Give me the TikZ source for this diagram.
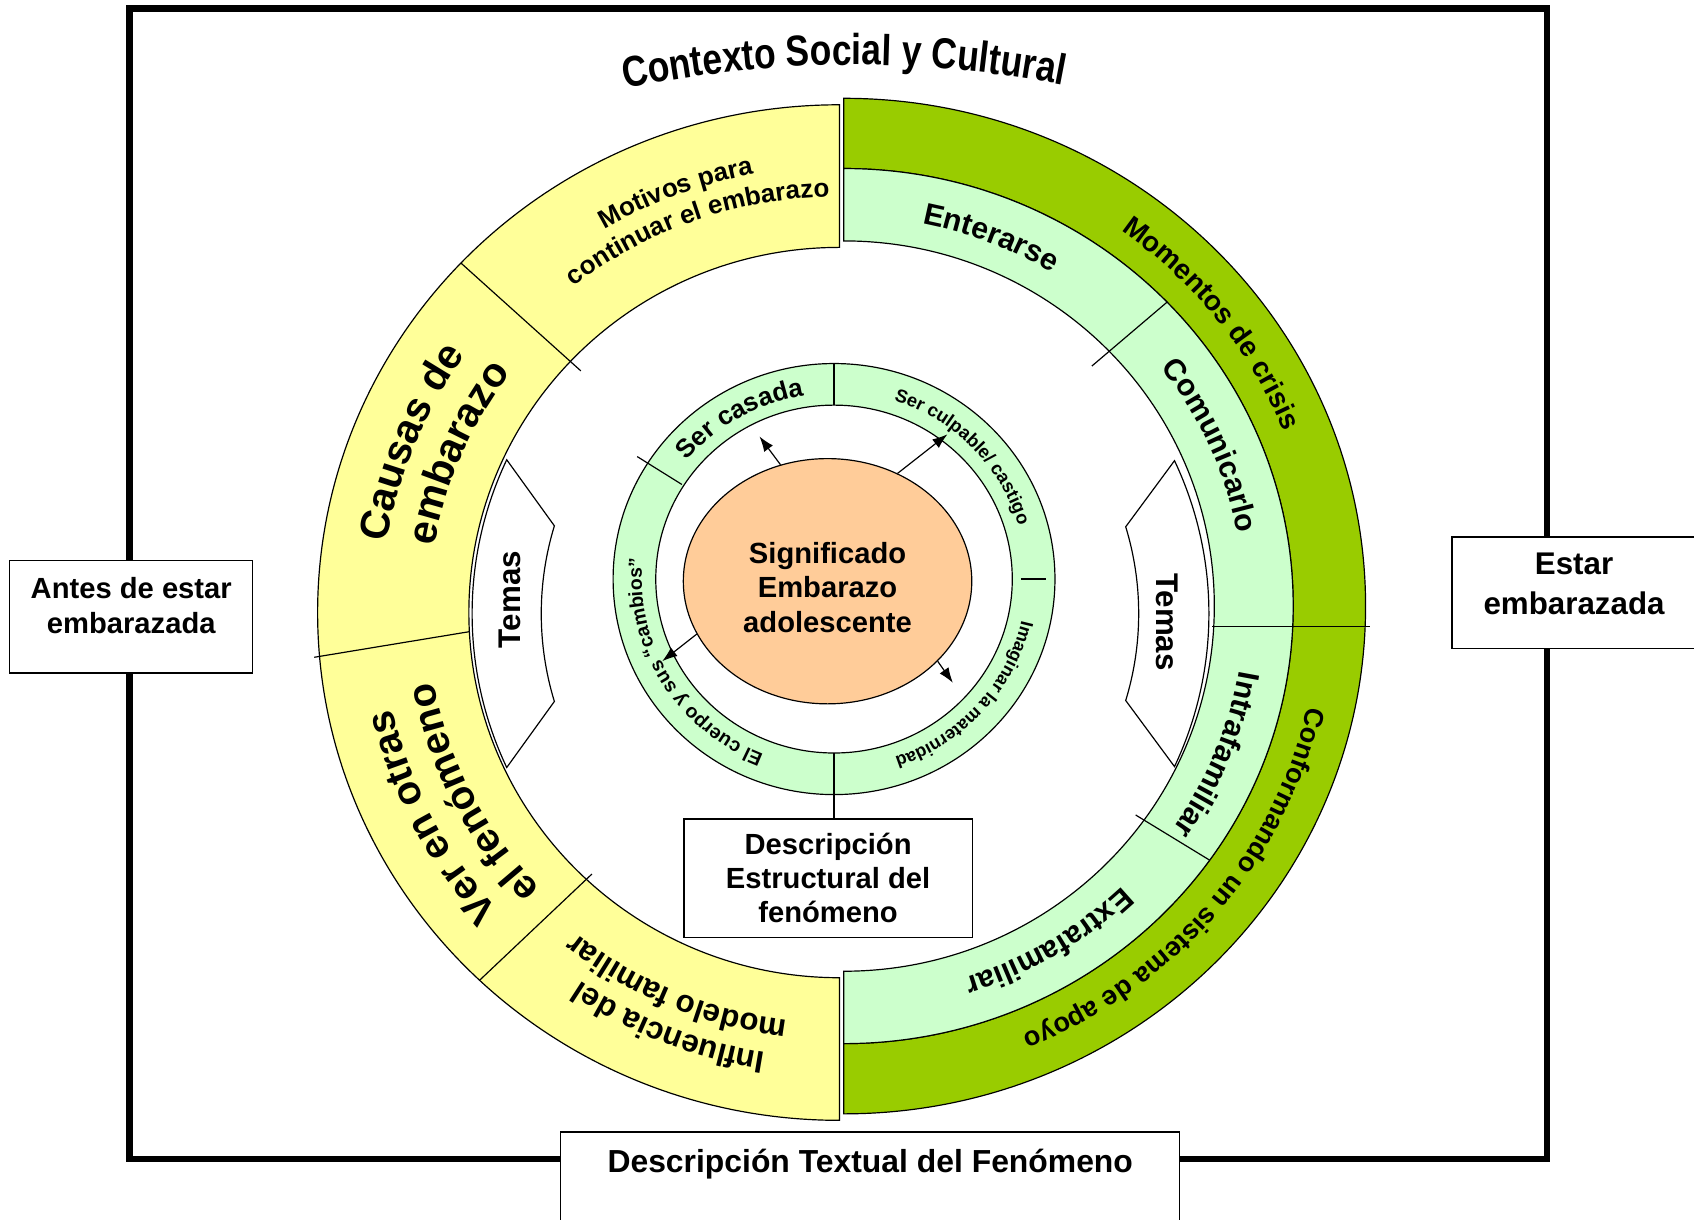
\documentclass[tikz,border=0pt]{standalone}
\usepackage{fontspec}
\setmainfont{Liberation Sans}
\newfontfamily\archfont{Liberation Sans}[FakeStretch=0.82]
\usetikzlibrary{shapes.geometric,decorations.text,arrows.meta,calc}
\definecolor{pale}{HTML}{FFFF99}
\definecolor{leaf}{HTML}{99CC00}
\definecolor{mint}{HTML}{CCFFCC}
\definecolor{peach}{HTML}{FFCC99}
\newcommand\fs[2]{\fontsize{#1}{#2}\selectfont\bfseries}
\begin{document}
\begin{tikzpicture}[x=1pt, y=1pt, line width=1.1pt,
    ringtext/.style={decorate, decoration={text along path, text align=center, text={#1}}},
    box/.style={draw, fill=white, line width=1.3pt, align=center, inner sep=0pt},
    arrowtip/.style={-{Latex[length=14pt,width=10pt]}}]
  \useasboundingbox (-781,-568) rectangle (787,561);
  \draw[line width=6pt] (-661,553) rectangle (651,-512);

  % outer ring
  \begin{scope}[shift={(-4,-6)}]
    \filldraw[fill=pale] (0,470) arc[start angle=90, end angle=270, x radius=483, y radius=470]
      -- (0,-338) arc[start angle=270, end angle=90, x radius=343, y radius=338] -- cycle;
    \draw (136.5:483 and 470) -- (136.5:330 and 325);
    \draw (185:488 and 475) -- (183:343 and 338);
    \draw (226.4:483 and 470) -- (227:336 and 331);
  \end{scope}
  \filldraw[fill=leaf] (0,470) arc[start angle=90, end angle=-90, x radius=483, y radius=470]
    -- (0,-405) arc[start angle=-90, end angle=90, x radius=416, y radius=405] -- cycle;
  \filldraw[fill=mint] (0,405) arc[start angle=90, end angle=-90, x radius=416, y radius=405]
    -- (0,-338) arc[start angle=-90, end angle=90, x radius=343, y radius=338] -- cycle;
  \draw (44.5:322 and 317) -- (44:416 and 405);
  \draw (-36:334 and 329) -- (-35.5:416 and 405);
  \draw (341,-19) -- (487,-19);

  % temas
  \begin{scope}[shift={(-2,-7)}]
    \filldraw[fill=white] (25:340 and 335) -- (17:275) arc[start angle=17, end angle=-17, radius=275]
      -- (-25:340 and 335) arc[start angle=-25, end angle=25, x radius=340, y radius=335] -- cycle;
    \filldraw[fill=white] (155:342 and 337) -- (163:278) arc[start angle=163, end angle=197, radius=278]
      -- (205:342 and 337) arc[start angle=205, end angle=155, x radius=342, y radius=337] -- cycle;
  \end{scope}
  \node[rotate=90, font=\fs{29}{29}] (temasL) at (-309,6) {Temas};
  \node[rotate=-90, font=\fs{29}{29}] (temasR) at (299,-15) {Temas};

  % inner ring
  \begin{scope}[shift={(-9,25)}]
    \filldraw[fill=mint, even odd rule] (0,0) ellipse[x radius=204.5, y radius=199.5]
      (0,0) ellipse[x radius=165, y radius=161];
    \draw (0,161) -- (0,199.5);
    \draw (147.5:167 and 163) -- (147.5:216 and 211);
    \draw (173,0) -- (196,0);
    \coordinate (ringbot) at (0,-161);
  \end{scope}

  \node[draw, fill=peach, ellipse, inner sep=0pt, minimum width=267, minimum height=227,
    align=center, font=\fs{27}{32}] (signif) at (-15,23)
    {\rule{0pt}{31pt}Significado\\Embarazo\\adolescente};
  \coordinate (tipA) at (-78,157);
  \coordinate (tipB) at (96,159);
  \coordinate (tipC) at (-168,-51);
  \coordinate (tipD) at (101,-71);
  \draw[arrowtip] (signif.112) -- (tipA);
  \draw[arrowtip] (signif.57) -- (tipB);
  \draw[arrowtip] (signif.202) -- (tipC);
  \draw[arrowtip] (signif.-36.5) -- (tipD);

  % boxes
  \node[box, minimum width=267, minimum height=110, font=\fs{27}{31.5}] (estructural) at (-14.5,-252)
    {Descripción\\Estructural del\\fenómeno};
  \draw (ringbot) -- (ringbot |- estructural.north);
  \node[box, minimum width=225, minimum height=104, font=\fs{27}{33}] (antes) at (-659.5,-10)
    {Antes de estar\\embarazada\rule[-21pt]{0pt}{21pt}};
  \node[box, minimum width=226, minimum height=103, font=\fs{29}{37}] (estar) at (676,12.5)
    {Estar\\embarazada\rule[-17pt]{0pt}{17pt}};
  \node[box, anchor=north, minimum width=573, text height=38pt, text depth=100pt,
    font=\fs{29.5}{29.5}] (textual) at (24.5,-486) {Descripción Textual del Fenómeno};

  % curved labels
  \path[ringtext={|\archfont\fs{40}{40}|Contexto Social y Cultural}] (9,-509) ++(110.5:1010)
    arc[start angle=110.5, end angle=70.5, radius=1010];
  \begin{scope}[shift={(-4,-6)}]
    \path[ringtext={|\fs{24}{24}|Motivos para}] (151:425 and 413)
      arc[start angle=151, end angle=71, x radius=425, y radius=413];
    \path[ringtext={|\fs{24}{24}|continuar el embarazo}] (150:396 and 385)
      arc[start angle=150, end angle=70, x radius=396, y radius=385];
    \path[ringtext={|\fs{38}{38}|Causas de}] (198:424 and 412)
      arc[start angle=198, end angle=118, x radius=424, y radius=412];
    \path[ringtext={|\fs{38}{38}|embarazo}] (197:380 and 370)
      arc[start angle=197, end angle=117, x radius=380, y radius=370];
    \path[ringtext={|\fs{37}{37}|Ver en otras}] (247:424 and 412)
      arc[start angle=247, end angle=167, x radius=424, y radius=412];
    \path[ringtext={|\fs{37}{37}|el fenómeno}] (246.5:381 and 371)
      arc[start angle=246.5, end angle=166.5, x radius=381, y radius=371];
    \path[ringtext={|\fs{29}{29}|Influencia del}] (288:425 and 413)
      arc[start angle=288, end angle=208, x radius=425, y radius=413];
    \path[ringtext={|\fs{29}{29}|modelo familiar}] (287:391 and 380)
      arc[start angle=287, end angle=207, x radius=391, y radius=380];
  \end{scope}
  \path[ringtext={|\fs{28}{28}|Enterarse}] (108.5:371 and 361)
    arc[start angle=108.5, end angle=28.5, x radius=371, y radius=361];
  \path[ringtext={|\fs{28}{28}|Comunicarlo}] (64:371 and 361)
    arc[start angle=64, end angle=-16, x radius=371, y radius=361];
  \path[ringtext={|\fs{28}{28}|Intrafamiliar}] (18:371 and 361)
    arc[start angle=18, end angle=-62, x radius=371, y radius=361];
  \path[ringtext={|\fs{28}{28}|Extrafamiliar}] (-19:371 and 361)
    arc[start angle=-19, end angle=-99, x radius=371, y radius=361];
  \path[ringtext={|\fs{26}{26}|Momentos de crisis}] (78:440 and 428)
    arc[start angle=78, end angle=-2, x radius=440, y radius=428];
  \path[ringtext={|\fs{25}{25}|Conformando un sistema de apoyo}] (5:440 and 428)
    arc[start angle=5, end angle=-85, x radius=440, y radius=428];
  \begin{scope}[shift={(-9,25)}]
    \path[ringtext={|\fs{24}{24}|Ser casada}] (160:176 and 172)
      arc[start angle=160, end angle=80, x radius=176, y radius=172];
    \path[ringtext={|\fs{17}{17}|Ser culpable/ castigo}] (89:178 and 174)
      arc[start angle=89, end angle=-1, x radius=178, y radius=174];
    \path[ringtext={|\fs{16.5}{16.5}|Imaginar la maternidad}] (3:178 and 174)
      arc[start angle=3, end angle=-87, x radius=178, y radius=174];
    \path[ringtext={|\fs{18}{18}|El cuerpo y sus “cambios”}] (261:178 and 174)
      arc[start angle=261, end angle=161, x radius=178, y radius=174];
  \end{scope}
\end{tikzpicture}
\end{document}
